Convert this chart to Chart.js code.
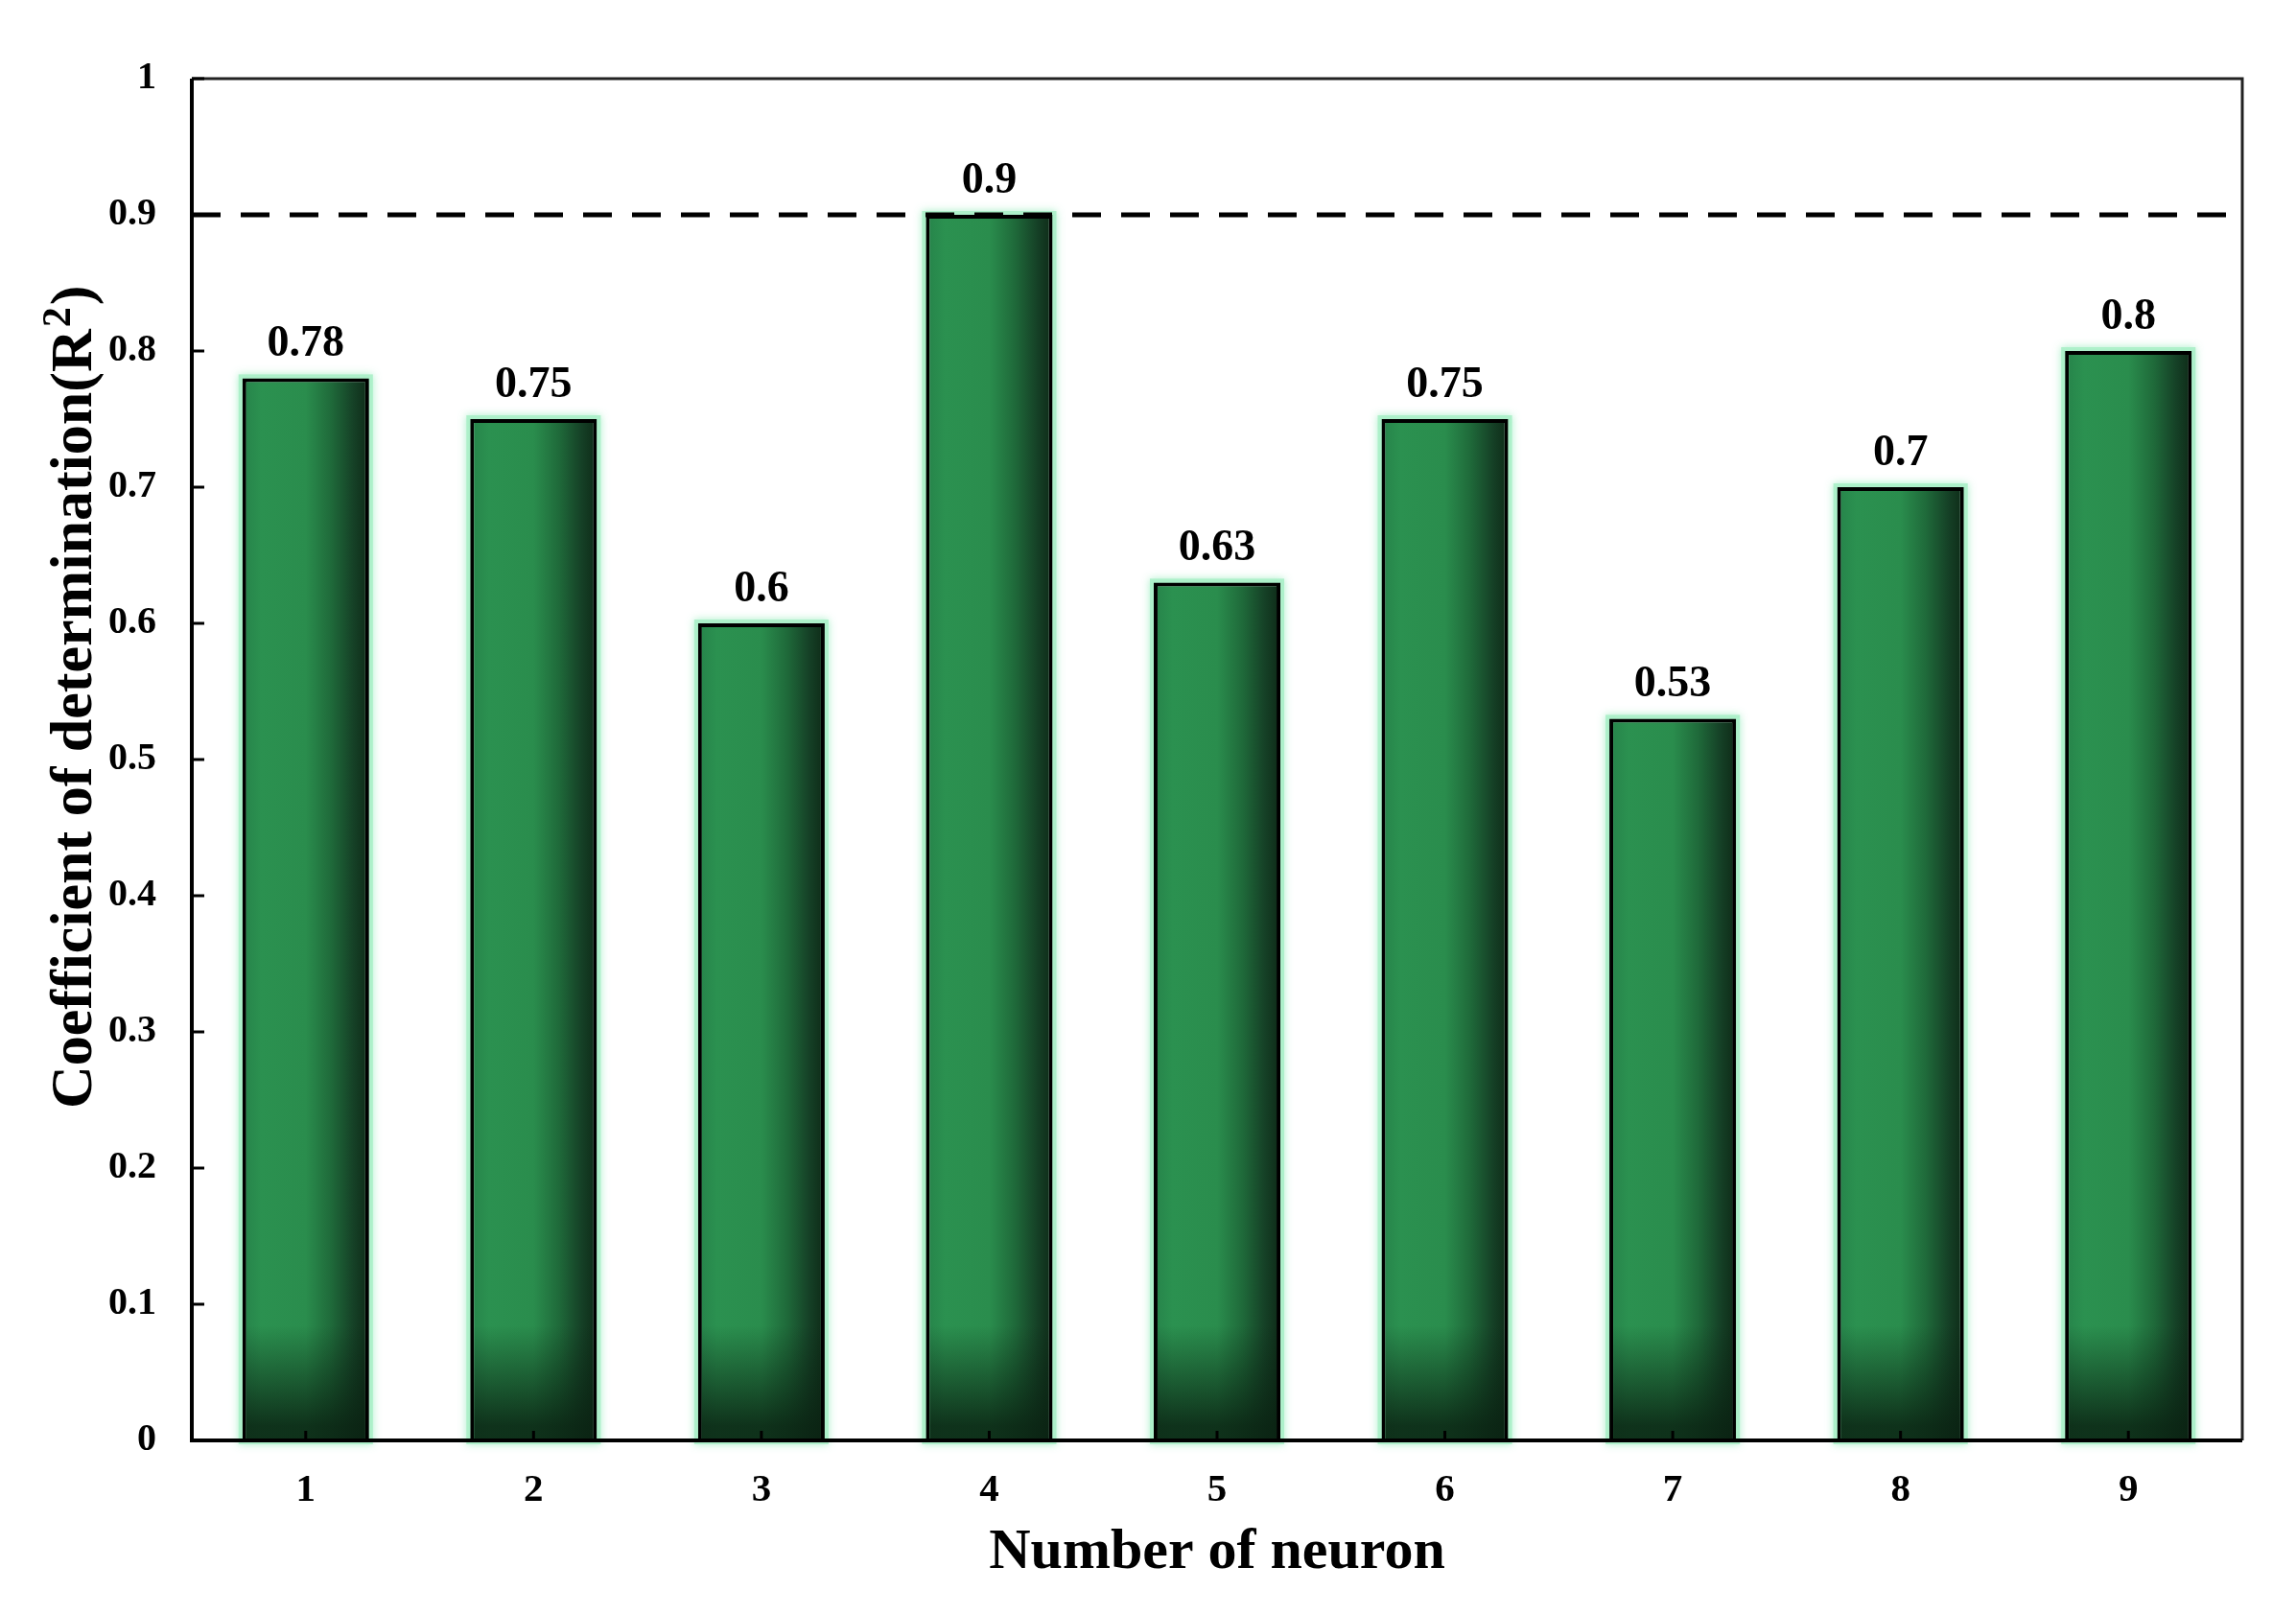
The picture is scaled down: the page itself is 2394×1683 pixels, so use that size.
<!DOCTYPE html>
<html>
<head>
<meta charset="utf-8">
<title>Coefficient of determination vs number of neurons</title>
<script src="https://cdn.jsdelivr.net/npm/chart.js@4.4.1/dist/chart.umd.min.js"></script>
<style>
  html, body { margin: 0; padding: 0; background: #fff; }
  #wrap { width: 2394px; height: 1683px; position: relative; }
</style>
</head>
<body>
<div id="wrap"><canvas id="chart"></canvas></div>
<script>
// valores
const NEURONS = ['1', '2', '3', '4', '5', '6', '7', '8', '9'];
const R2_VALUES = [0.78, 0.75, 0.6, 0.9, 0.63, 0.75, 0.53, 0.7, 0.8];
const Y_TICK_LABELS = ['0', '0.1', '0.2', '0.3', '0.4', '0.5', '0.6', '0.7', '0.8', '0.9', '1'];
const THRESHOLD = 0.9;

const X_TITLE = 'Number of neuron';
// titulo do eixo y: texto + expoente desenhados a parte
const Y_TITLE = 'Coefficient of determination(R';
const Y_TITLE_SUP = '2';
const Y_TITLE_END = ')';

const FONT = "'Liberation Serif', 'Times New Roman', serif";
const BAR_PCT = 0.556;
const BORDER_W = 4;

// geometria da barra i a partir da escala x
function barBox(chart, i) {
  const xs = chart.scales.x;
  const x = xs.getPixelForTick(i);
  const w = (xs.width / NEURONS.length) * BAR_PCT;
  return { l: x - w / 2, r: x + w / 2, x, w };
}

// gradiente horizontal (claro a esquerda, escuro a direita)
function barGradient(ctx) {
  const chart = ctx.chart;
  if (!chart.chartArea || ctx.dataIndex == null) return '#2a8e4e';
  const { l, r } = barBox(chart, ctx.dataIndex);
  if (!isFinite(l) || !isFinite(r)) return '#2a8e4e';
  const g = chart.ctx.createLinearGradient(l, 0, r, 0);
  g.addColorStop(0, '#26834a');
  g.addColorStop(0.15, '#2b9150');
  g.addColorStop(0.5, '#2a8d4d');
  g.addColorStop(0.7, '#1f6a3a');
  g.addColorStop(0.88, '#154026');
  g.addColorStop(1, '#0e2a17');
  return g;
}

const barFx = {
  id: 'barFx',
  beforeDatasetsDraw(chart) {
    // brilho verde claro em volta das barras
    const ctx = chart.ctx;
    const meta = chart.getDatasetMeta(0);
    ctx.save();
    ctx.strokeStyle = 'rgba(170, 240, 200, 0.9)';
    ctx.lineWidth = 8;
    ctx.shadowColor = 'rgba(150, 235, 190, 0.9)';
    ctx.shadowBlur = 8;
    meta.data.forEach((el) => {
      const { x, y, width, base } = el.getProps(['x', 'y', 'width', 'base'], true);
      ctx.strokeRect(x - width / 2, y, width, base - y);
    });
    ctx.restore();
  },
  afterDatasetsDraw(chart) {
    const ctx = chart.ctx;
    const meta = chart.getDatasetMeta(0);

    // escurecimento na base das barras
    meta.data.forEach((el) => {
      const { x, width, base } = el.getProps(['x', 'width', 'base'], true);
      const l = x - width / 2 + BORDER_W;
      const r = x + width / 2 - BORDER_W;
      const g = ctx.createLinearGradient(0, base - 120, 0, base - 15);
      g.addColorStop(0, 'rgba(10, 34, 18, 0)');
      g.addColorStop(1, 'rgba(10, 34, 18, 0.85)');
      ctx.fillStyle = g;
      ctx.fillRect(l, base - 120, r - l, 120);
    });

    // linha tracejada de referencia
    const area = chart.chartArea;
    const yT = chart.scales.y.getPixelForValue(THRESHOLD);
    ctx.save();
    ctx.strokeStyle = '#000';
    ctx.lineWidth = 5;
    ctx.setLineDash([30, 21]);
    ctx.beginPath();
    ctx.moveTo(area.left, yT);
    ctx.lineTo(area.right, yT);
    ctx.stroke();
    ctx.restore();

    // rotulos de valor em cima das barras
    ctx.save();
    ctx.fillStyle = '#000';
    ctx.font = `bold 46px ${FONT}`;
    ctx.textAlign = 'center';
    ctx.textBaseline = 'alphabetic';
    meta.data.forEach((el, i) => {
      ctx.fillText(String(R2_VALUES[i]), el.x, el.y - 23);
    });
    ctx.restore();
  },
  afterDraw(chart) {
    const ctx = chart.ctx;
    const a = chart.chartArea;
    ctx.save();
    // moldura
    ctx.strokeStyle = '#222';
    ctx.lineWidth = 3;
    ctx.beginPath();
    ctx.moveTo(a.left, a.top);
    ctx.lineTo(a.right, a.top);
    ctx.lineTo(a.right, a.bottom);
    ctx.stroke();
    ctx.strokeStyle = '#000';
    ctx.lineWidth = 4;
    ctx.beginPath();
    ctx.moveTo(a.left, a.top);
    ctx.lineTo(a.left, a.bottom);
    ctx.lineTo(a.right, a.bottom);
    ctx.stroke();

    // ticks para dentro
    ctx.lineWidth = 3;
    const ys = chart.scales.y;
    ys.ticks.forEach((_, i) => {
      const y = ys.getPixelForTick(i);
      ctx.beginPath();
      ctx.moveTo(a.left, y);
      ctx.lineTo(a.left + 13, y);
      ctx.stroke();
    });
    const xs = chart.scales.x;
    xs.ticks.forEach((_, i) => {
      const x = xs.getPixelForTick(i);
      ctx.beginPath();
      ctx.moveTo(x, a.bottom);
      ctx.lineTo(x, a.bottom - 10);
      ctx.stroke();
    });

    // titulo do eixo y, girado, com expoente
    ctx.translate(95, 1156);
    ctx.rotate(-Math.PI / 2);
    ctx.fillStyle = '#000';
    ctx.textAlign = 'left';
    ctx.textBaseline = 'alphabetic';
    ctx.font = `bold 62px ${FONT}`;
    ctx.fillText(Y_TITLE, 0, 0);
    let w = ctx.measureText(Y_TITLE).width;
    ctx.font = `bold 42px ${FONT}`;
    ctx.fillText(Y_TITLE_SUP, w + 2, -22);
    w += ctx.measureText(Y_TITLE_SUP).width + 4;
    ctx.font = `bold 62px ${FONT}`;
    ctx.fillText(Y_TITLE_END, w, 0);
    ctx.restore();
  },
};

new Chart(document.getElementById('chart'), {
  type: 'bar',
  data: {
    labels: NEURONS,
    datasets: [{
      data: R2_VALUES,
      backgroundColor: barGradient,
      borderColor: '#000',
      borderWidth: BORDER_W,
      borderSkipped: 'start',
      barPercentage: BAR_PCT,
      categoryPercentage: 1.0,
    }],
  },
  options: {
    responsive: true,
    maintainAspectRatio: false,
    animation: false,
    layout: { padding: { top: 82, right: 56, bottom: 28, left: 0 } },
    plugins: {
      legend: { display: false },
      tooltip: { enabled: false },
    },
    scales: {
      x: {
        grid: { display: false, drawTicks: false },
        border: { display: false },
        ticks: {
          color: '#000',
          font: { family: FONT, size: 41, weight: 'bold' },
          padding: 28,
        },
        title: {
          display: true,
          text: X_TITLE,
          color: '#000',
          font: { family: FONT, size: 60, weight: 'bold' },
          padding: { top: 0, bottom: 0 },
        },
        afterFit: (s) => { s.height = 1683 - 1502 - 28; },
      },
      y: {
        min: 0,
        max: 1,
        grid: { display: false, drawTicks: false },
        border: { display: false },
        ticks: {
          stepSize: 0.1,
          color: '#000',
          font: { family: FONT, size: 40, weight: 'bold' },
          padding: 37,
          callback: (v, i) => Y_TICK_LABELS[i],
        },
        title: { display: false },
        afterFit: (s) => { s.width = 200; },
      },
    },
  },
  plugins: [barFx],
});
</script>
</body>
</html>
